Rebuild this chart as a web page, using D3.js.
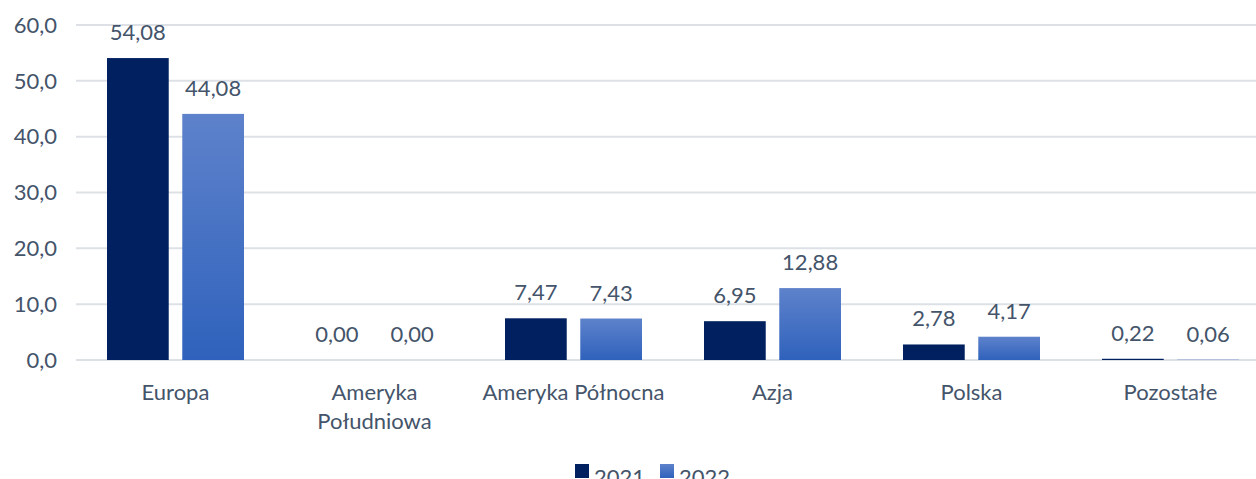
<!DOCTYPE html>
<html>
<head>
<meta charset="utf-8">
<script src="https://cdn.jsdelivr.net/npm/d3@7"></script>
<style>
  body { margin: 0; background: #fff; }
  text { font-family: Lato, "Open Sans", sans-serif; fill: #44546A; }
</style>
</head>
<body>
<div id="chart"></div>
<script>
const categories = ["Europa", "Ameryka Południowa", "Ameryka Północna", "Azja", "Polska", "Pozostałe"];
const categoryLines = [["Europa"], ["Ameryka", "Południowa"], ["Ameryka Północna"], ["Azja"], ["Polska"], ["Pozostałe"]];
const values2021 = [54.08, 0.0, 7.47, 6.95, 2.78, 0.22];
const values2022 = [44.08, 0.0, 7.43, 12.88, 4.17, 0.06];
const seriesNames = ["2021", "2022"];
const yTicks = [0, 10, 20, 30, 40, 50, 60];

const W = 1256, H = 479;
const margin = { top: 25, right: -14, bottom: 119, left: 76 };
const width = W - margin.left - margin.right,
  height = H - margin.top - margin.bottom;

const svgRoot = d3.select("#chart").append("svg").attr("width", W).attr("height", H);

const defs = svgRoot.append("defs");
const grad = defs.append("linearGradient").attr("id", "g2022")
  .attr("x1", 0).attr("y1", 0).attr("x2", 0).attr("y2", 1);
grad.append("stop").attr("offset", "0%").attr("stop-color", "#5E82CB");
grad.append("stop").attr("offset", "100%").attr("stop-color", "#2F62BC");

const colors = ["#002060", "url(#g2022)"];

const svg = svgRoot.append("g").attr("transform", `translate(${margin.left},${margin.top})`);

const x0 = d3.scaleBand().domain(categories).range([0, width]).paddingInner(0).paddingOuter(0);
const y = d3.scaleLinear().domain([0, 60]).range([height, 0]);
const x1 = d3.scaleBand().domain(seriesNames).range([31, x0.bandwidth() - 31]).paddingInner(0.18);

const fmt1 = (d) => d.toFixed(1).replace(".", ",");
const fmt2 = (d) => d.toFixed(2).replace(".", ",");

// gridlines
svg.append("g").selectAll("line").data(yTicks).join("line")
  .attr("x1", 0).attr("x2", width)
  .attr("y1", (d) => y(d)).attr("y2", (d) => y(d))
  .attr("stroke", "#DDE1E6").attr("stroke-width", 2);

// y labels
svg.append("g").selectAll("text").data(yTicks).join("text")
  .attr("x", -19).attr("y", (d) => y(d)).attr("dy", "0.35em")
  .attr("text-anchor", "end").style("font-size", "22px")
  .text(fmt1);

const data = categories.map((c, i) => ({ cat: c, vals: [values2021[i], values2022[i]] }));

const groups = svg.selectAll(".grp").data(data).join("g")
  .attr("transform", (d) => `translate(${x0(d.cat)},0)`);

groups.selectAll("rect").data((d) => d.vals.map((v, j) => ({ v, s: seriesNames[j], j }))).join("rect")
  .attr("x", (d) => x1(d.s)).attr("width", x1.bandwidth())
  .attr("y", (d) => y(d.v)).attr("height", (d) => y(0) - y(d.v))
  .attr("fill", (d) => colors[d.j]);

groups.selectAll(".val").data((d) => d.vals.map((v, j) => ({ v, s: seriesNames[j] }))).join("text")
  .attr("class", "val")
  .attr("x", (d) => x1(d.s) + x1.bandwidth() / 2)
  .attr("y", (d) => y(d.v) - 18)
  .attr("text-anchor", "middle").style("font-size", "22px")
  .text((d) => fmt2(d.v));

// category labels
groups.each(function (d, i) {
  const t = d3.select(this).append("text")
    .attr("x", x0.bandwidth() / 2).attr("y", height + 40)
    .attr("text-anchor", "middle").style("font-size", "22px");
  categoryLines[i].forEach((line, k) => {
    t.append("tspan").attr("x", x0.bandwidth() / 2).attr("dy", k === 0 ? 0 : 29).text(line);
  });
});

// legend
const legend = svgRoot.append("g").attr("transform", "translate(575,464)");
const legendX = [0, 85];
seriesNames.forEach((s, i) => {
  const g = legend.append("g").attr("transform", `translate(${legendX[i]},0)`);
  g.append("rect").attr("width", 14).attr("height", 14).attr("fill", colors[i]);
  g.append("text").attr("x", 19).attr("y", 14).attr("dy", "0.3em").style("font-size", "22px").text(s);
});
</script>
</body>
</html>
